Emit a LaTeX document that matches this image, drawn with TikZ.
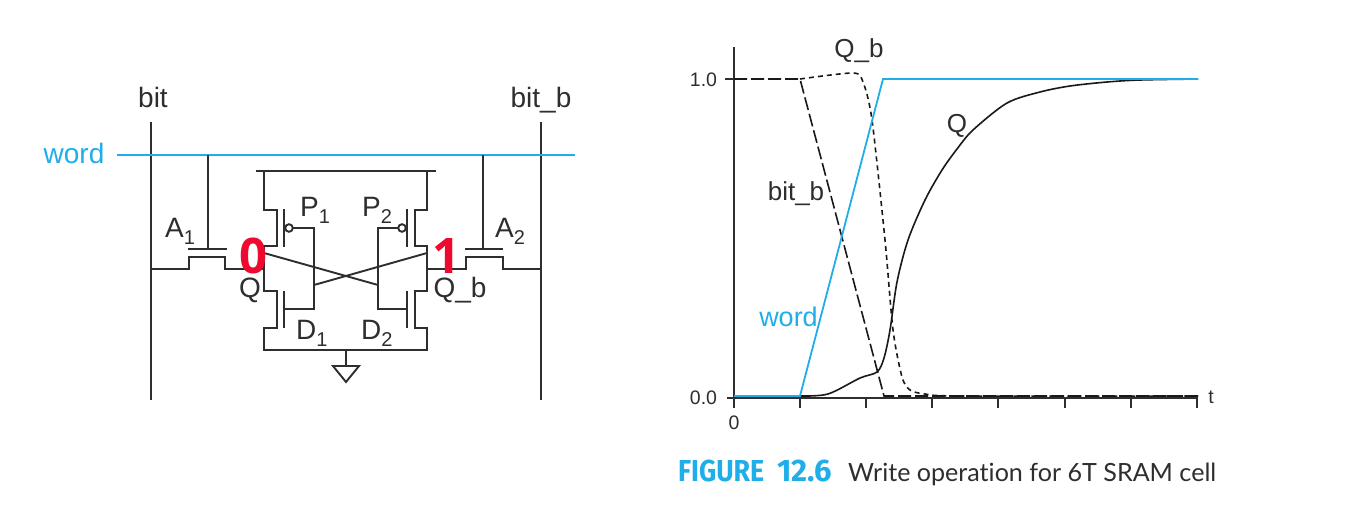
\documentclass[tikz,border=0pt]{standalone}
\usepackage{graphicx}
\usepackage{fontspec}
\setmainfont{Liberation Sans}
\newfontfamily\capbold{Fira Sans}[UprightFont=* Bold]
\newfontfamily\capreg{Lato}[Ligatures=NoCommon]
\newfontfamily\digitfont{Open Sans}[UprightFont=* Bold]
\definecolor{wcyan}{HTML}{1FAEE8}
\definecolor{ink}{HTML}{2E2E2E}
\definecolor{redd}{HTML}{EE0A2E}
\newcommand{\subl}[1]{\raisebox{-7pt}{\fontsize{20}{20}\selectfont #1}}
\tikzset{
  wire/.style={draw=ink,line width=1.9pt,line join=miter},
  wordw/.style={draw=wcyan,line width=1.8pt},
  axisl/.style={draw=ink,line width=1.9pt},
  curve/.style={draw=black!90,line width=1.6pt},
  lab/.style={text=ink,font=\fontsize{26}{28}\selectfont,inner sep=0pt,anchor=base},
  labl/.style={text=ink,font=\fontsize{28}{30}\selectfont,inner sep=0pt,anchor=base},
  labw/.style={text=ink,font=\fontsize{28}{30}\selectfont,inner sep=0pt,anchor=base west},
  tickl/.style={text=ink,font=\fontsize{19.5}{21}\selectfont,inner sep=0pt},
  digit/.style={text=redd,font=\fontsize{49}{51}\selectfont\digitfont,inner sep=0pt,anchor=base},
}
\begin{document}
\begin{tikzpicture}[x=1pt,y=-1pt]
\useasboundingbox (0,0) rectangle (1356,525);
\fill[white] (0,0) rectangle (1356,525);
% bit lines and word line
\draw[wire] (151,122) -- (151,400);
\draw[wire] (541,122) -- (541,400);
\draw[wordw] (117,155) -- (575,155);
% access transistors
\draw[wire] (208,155) -- (208,249);
\draw[wire] (188,249) -- (227,249);
\draw[wire] (151,269) -- (189,269) -- (189,257) -- (225,257) -- (225,269) -- (264,269);
\draw[wire] (483,155) -- (483,249);
\draw[wire] (465,249) -- (503,249);
\draw[wire] (427,269) -- (466,269) -- (466,257) -- (503,257) -- (503,269) -- (541,269);
% rails
\draw[wire] (256,171) -- (436,171);
\draw[wire] (264,171) -- (264,210) -- (277,210) -- (277,246) -- (264,246) -- (264,291) -- (277,291) -- (277,328) -- (264,328) -- (264,350) -- (427,350) -- (427,328) -- (415,328) -- (415,291) -- (427,291) -- (427,246) -- (415,246) -- (415,210) -- (427,210) -- (427,171);
% gates
\draw[wire] (284,209) -- (284,247);
\draw[wire] (284,291) -- (284,328);
\draw[wire] (407,209) -- (407,247);
\draw[wire] (407,291) -- (407,328);
\draw[wire] (289,228) circle (3.8);
\draw[wire] (402,228) circle (3.8);
\draw[wire] (293,228) -- (314,228) -- (314,309) -- (284,309);
\draw[wire] (398,228) -- (378,228) -- (378,309) -- (407,309);
% cross coupling
\draw[wire] (264,253) -- (378,285);
\draw[wire] (427,253) -- (314,285);
% ground
\draw[wire] (346,350) -- (346,366);
\draw[wire] (333,366) -- (359,366) -- (346,382) -- cycle;
% circuit labels
\node[labl] (lbit) at (153,107) {bit};
\node[labl] (lbitb) at (541,107) {bit\_b};
\node[labl,text=wcyan] (lword) at (74,163) {word};
\node[labw] (la1) at (165,237) {A\subl{1}};
\node[labw] (la2) at (495,237) {A\subl{2}};
\node[labw] (lp1) at (300,216) {P\subl{1}};
\node[labw] (lp2) at (362,216) {P\subl{2}};
\node[labw] (ld1) at (296,339) {D\subl{1}};
\node[labw] (ld2) at (361,339) {D\subl{2}};
\node[labl] (lq) at (250,297) {Q};
\node[labl] (lqb) at (460,297) {Q\_b};
\node[digit] (zero) at (253,273) {0};
\node[digit] (one) at (446,273) {1};
% chart axes
\draw[axisl] (734,47) -- (734,408);
\draw[axisl] (727,398) -- (1198,398);
\draw[axisl] (725,79) -- (734,79);
\foreach \tx in {800,866,932,998,1065,1131,1197} \draw[axisl,line width=1.4pt] (\tx,398) -- (\tx,408);
\node[tickl] (t10) at (703.5,80) {1.0};
\node[tickl] (t00) at (703.5,398) {0.0};
\node[tickl] (t0) at (734,423) {0};
\node[tickl] (tt) at (1211,397) {t};
% curves
\draw[curve,dash pattern=on 13pt off 4pt] (734,79) -- (800,79) -- (884,396) -- (1198,396);
\draw[curve,dash pattern=on 5pt off 4pt] plot[smooth,tension=0.45] coordinates {(800,79) (853,73) (863,82) (872,120) (885,240) (893,330) (902,377) (910,390) (925,394) (960,396) (1198,396)};
\draw[curve] plot[smooth,tension=0.5] coordinates {(800,396) (828,394) (860,378) (877,372) (884,358) (890,330) (897,282) (908,240) (925,200) (942,170) (957,149) (973,130) (1007,103) (1040,92) (1070,86) (1107,82) (1140,80) (1198,79)};
\draw[wordw] (734,396) -- (800,396) -- (883,79) -- (1198,79);
\node[lab] (cqb) at (859,57) {Q\_b};
\node[lab] (cbb) at (796,200) {bit\_b};
\node[lab] (cq) at (957,132) {Q};
\node[lab,text=wcyan,font=\fontsize{27}{29}\selectfont] (cw) at (788.5,326) {word};
% caption
\node[anchor=base west,inner sep=0pt,text=wcyan] (figl) at (678,481) {\capbold\resizebox{86pt}{21.5pt}{FIGURE}};
\node[anchor=base west,inner sep=0pt,text=wcyan] (fign) at (777,481) {\capbold\resizebox{55pt}{21.5pt}{12.6}};
\node[anchor=base west,inner sep=0pt,text=ink] (figt) at (848,481) {\capreg\fontsize{26}{28}\selectfont\resizebox{368pt}{!}{Write operation for 6T SRAM cell}};
\end{tikzpicture}
\end{document}
